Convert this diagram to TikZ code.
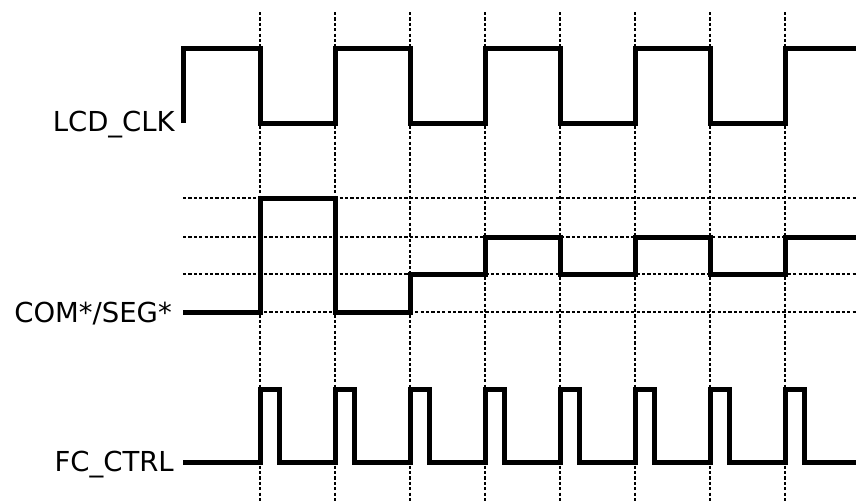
\documentclass[tikz,border=0pt]{standalone}
\usepackage{fontspec}
\setmainfont{DejaVu Sans}
\begin{document}
\begin{tikzpicture}[x=1pt,y=-1pt,
  sig/.style={line width=5pt, line join=miter, line cap=butt},
  gridline/.style={line width=1.7pt, dash pattern=on 3.2pt off 2.2pt},
  lab/.style={anchor=east, inner sep=0pt, font=\fontsize{27.5}{32}\selectfont}]
\useasboundingbox (0,0) rectangle (856,501);
% grid
\foreach \x in {260,335,...,785} \draw[gridline] (\x,12) -- (\x,501);
\foreach \y in {198,237,274,312} \draw[gridline] (183,\y) -- (856,\y);
% labels
\node[lab] (clk) at (175,125) {LCD\_CLK};
\node[lab] (com) at (172,314) {COM*/SEG*};
\node[lab] (fc) at (174,465) {FC\_CTRL};
\coordinate (clkstart) at (183,123);
\coordinate (comstart) at (183,312);
\coordinate (fcstart) at (183,462);
% LCD_CLK
\draw[sig] (clkstart) -- (183,48) -- (260,48) -- (260,123) -- (335,123) -- (335,48) -- (410,48) -- (410,123) -- (485,123) -- (485,48) -- (560,48) -- (560,123) -- (635,123) -- (635,48) -- (710,48) -- (710,123) -- (785,123) -- (785,48) -- (856,48);
% COM/SEG
\draw[sig] (comstart) -- (260,312) -- (260,198) -- (335,198) -- (335,312) -- (410,312) -- (410,274) -- (485,274) -- (485,237) -- (560,237) -- (560,274) -- (635,274) -- (635,237) -- (710,237) -- (710,274) -- (785,274) -- (785,237) -- (856,237);
% FC_CTRL
\draw[sig] (fcstart) \foreach \x in {260,335,...,785} { -- (\x,462) -- (\x,389) -- (\x+19,389) -- (\x+19,462) } -- (856,462);
\end{tikzpicture}
\end{document}
